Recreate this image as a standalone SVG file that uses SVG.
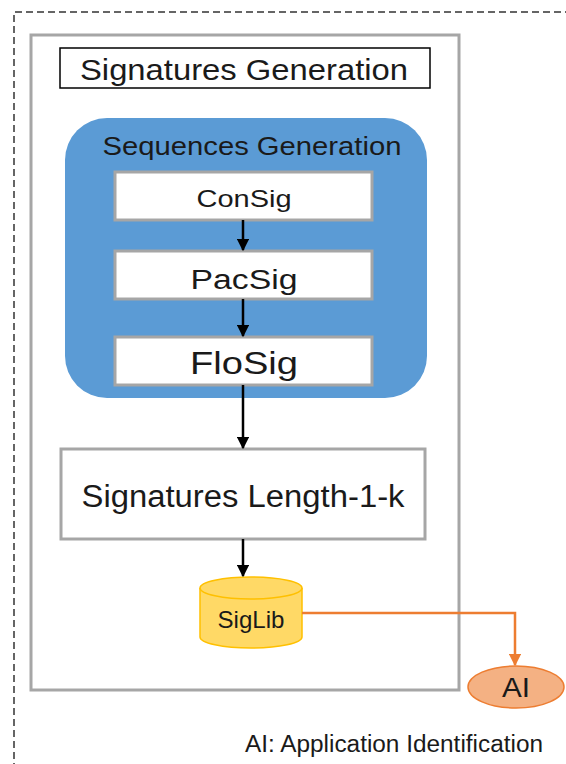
<svg xmlns="http://www.w3.org/2000/svg" width="566" height="764" viewBox="0 0 566 764">
<defs>
<style>
text{font-family:"Liberation Sans",Arial,sans-serif;text-anchor:middle;fill:#1a1a1a}
.box{fill:#fff;stroke:#a6a6a6;stroke-width:3}
.conn{stroke:#000;stroke-width:2.5;fill:none}
</style>
<marker id="ab" viewBox="0 0 10 10" refX="9" refY="5" markerWidth="5" markerHeight="5" orient="auto" markerUnits="strokeWidth"><path d="M0,0L10,5L0,10z" fill="#000"/></marker>
<marker id="ao" viewBox="0 0 10 10" refX="9" refY="5" markerWidth="5" markerHeight="5" orient="auto" markerUnits="strokeWidth"><path d="M0,0L10,5L0,10z" fill="#ED7D31"/></marker>
</defs>
<rect fill="#fff" width="566" height="764"/>
<path d="M14,770V12H570" fill="none" stroke="#333" stroke-width="1.5" stroke-dasharray="7,4"/>
<g id="outer"><rect x="31" y="35" width="428" height="655" fill="none" stroke="#a6a6a6" stroke-width="3"/></g>
<g id="title"><rect x="60" y="48" width="370" height="40" fill="#fff" stroke="#000" stroke-width="1.5"/><text x="244" y="80" font-size="30" textLength="328" lengthAdjust="spacingAndGlyphs">Signatures Generation</text></g>
<g id="seqgen"><rect x="65" y="118" width="362" height="280" rx="42" fill="#5B9BD5"/><text x="252" y="155" font-size="25" textLength="299" lengthAdjust="spacingAndGlyphs">Sequences Generation</text></g>
<g id="consig"><rect class="box" x="115" y="172" width="257" height="48"/><text x="244" y="207" font-size="24" textLength="95" lengthAdjust="spacingAndGlyphs">ConSig</text></g>
<g id="pacsig"><rect class="box" x="115" y="251" width="257" height="48"/><text x="244" y="289" font-size="27" textLength="107" lengthAdjust="spacingAndGlyphs">PacSig</text></g>
<g id="flosig"><rect class="box" x="115" y="337" width="257" height="48"/><text x="244" y="374" font-size="31" textLength="108" lengthAdjust="spacingAndGlyphs">FloSig</text></g>
<g id="siglen"><rect class="box" x="61" y="449" width="364" height="90"/><text x="243" y="507" font-size="31" textLength="323" lengthAdjust="spacingAndGlyphs">Signatures Length-1-k</text></g>
<g id="siglib"><path d="M200,588V637A51,11 0 0 0 302,637V588" fill="#FFD966" stroke="#FFC000" stroke-width="1.5"/><ellipse cx="251" cy="588" rx="51" ry="11" fill="#FFD966" stroke="#FFC000" stroke-width="1.5"/><text x="251" y="628" font-size="24" textLength="67" lengthAdjust="spacingAndGlyphs">SigLib</text></g>
<g id="ai"><ellipse cx="516" cy="687" rx="48" ry="21" fill="#F4B183" stroke="#ED7D31" stroke-width="1.5"/><text x="516" y="697" font-size="27" textLength="28" lengthAdjust="spacingAndGlyphs">AI</text></g>
<g id="connectors">
<path class="conn" d="M243,220V250" marker-end="url(#ab)"/>
<path class="conn" d="M243,299V336" marker-end="url(#ab)"/>
<path class="conn" d="M243,385V448" marker-end="url(#ab)"/>
<path class="conn" d="M243,539V576" marker-end="url(#ab)"/>
<path d="M302,613H515V665" fill="none" stroke="#ED7D31" stroke-width="2.5" marker-end="url(#ao)"/>
</g>
<text x="394" y="752" font-size="23" textLength="298" lengthAdjust="spacingAndGlyphs">AI: Application Identification</text>
</svg>
